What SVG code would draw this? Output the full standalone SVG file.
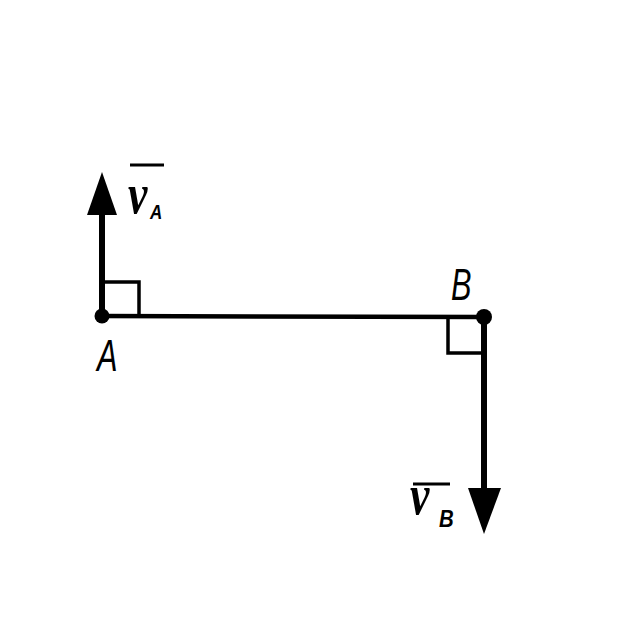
<svg xmlns="http://www.w3.org/2000/svg" width="640" height="640" viewBox="0 0 640 640">
<defs>
<style>
.lbl{font-family:"Liberation Sans",Arial,sans-serif;font-style:italic;fill:#000}
.v{font-family:"Liberation Serif","Times New Roman",serif;font-style:italic;font-weight:bold;fill:#000}
.thin{stroke:#000;stroke-width:3.5;fill:none}
.thick{stroke:#000;stroke-width:6;fill:none}
</style>
</defs>
<rect width="640" height="640" fill="#fff"/>
<g id="connectors">
<line class="thin" x1="102" y1="316" x2="484" y2="317" style="stroke-width:4.5"/>
<g id="arrow-vA">
<line class="thick" x1="102" y1="316" x2="102" y2="210"/>
<polygon points="102,172 87,215 117,215" fill="#000"/>
</g>
<g id="arrow-vB">
<line class="thick" x1="484" y1="317" x2="484" y2="492"/>
<polygon points="484,534 468,488 501,488" fill="#000"/>
</g>
<path class="thin" d="M104,282 H139 V315"/>
<path class="thin" d="M448,318 V353 H482"/>
</g>
<g id="node-A">
<circle cx="102" cy="316" r="7.5" fill="#000"/>
<text class="lbl" font-size="44" transform="translate(97,371) scale(0.7,1)">A</text>
</g>
<g id="node-B">
<circle cx="484" cy="317" r="8" fill="#000"/>
<text class="lbl" font-size="44" transform="translate(451,300) scale(0.7,1)">B</text>
</g>
<g id="label-vA">
<line x1="130" y1="165" x2="164" y2="165" stroke="#000" stroke-width="3"/>
<text class="v" font-size="56" transform="translate(128,213) scale(0.78,1)">v</text>
<text class="lbl" font-size="20" font-weight="bold" transform="translate(150,219) scale(0.85,1)">A</text>
</g>
<g id="label-vB">
<line x1="413" y1="484" x2="450" y2="484" stroke="#000" stroke-width="3"/>
<text class="v" font-size="56" transform="translate(410,514) scale(0.78,1)">v</text>
<text class="lbl" font-size="24" font-weight="bold" transform="translate(439,527) scale(0.85,1)">B</text>
</g>
</svg>
